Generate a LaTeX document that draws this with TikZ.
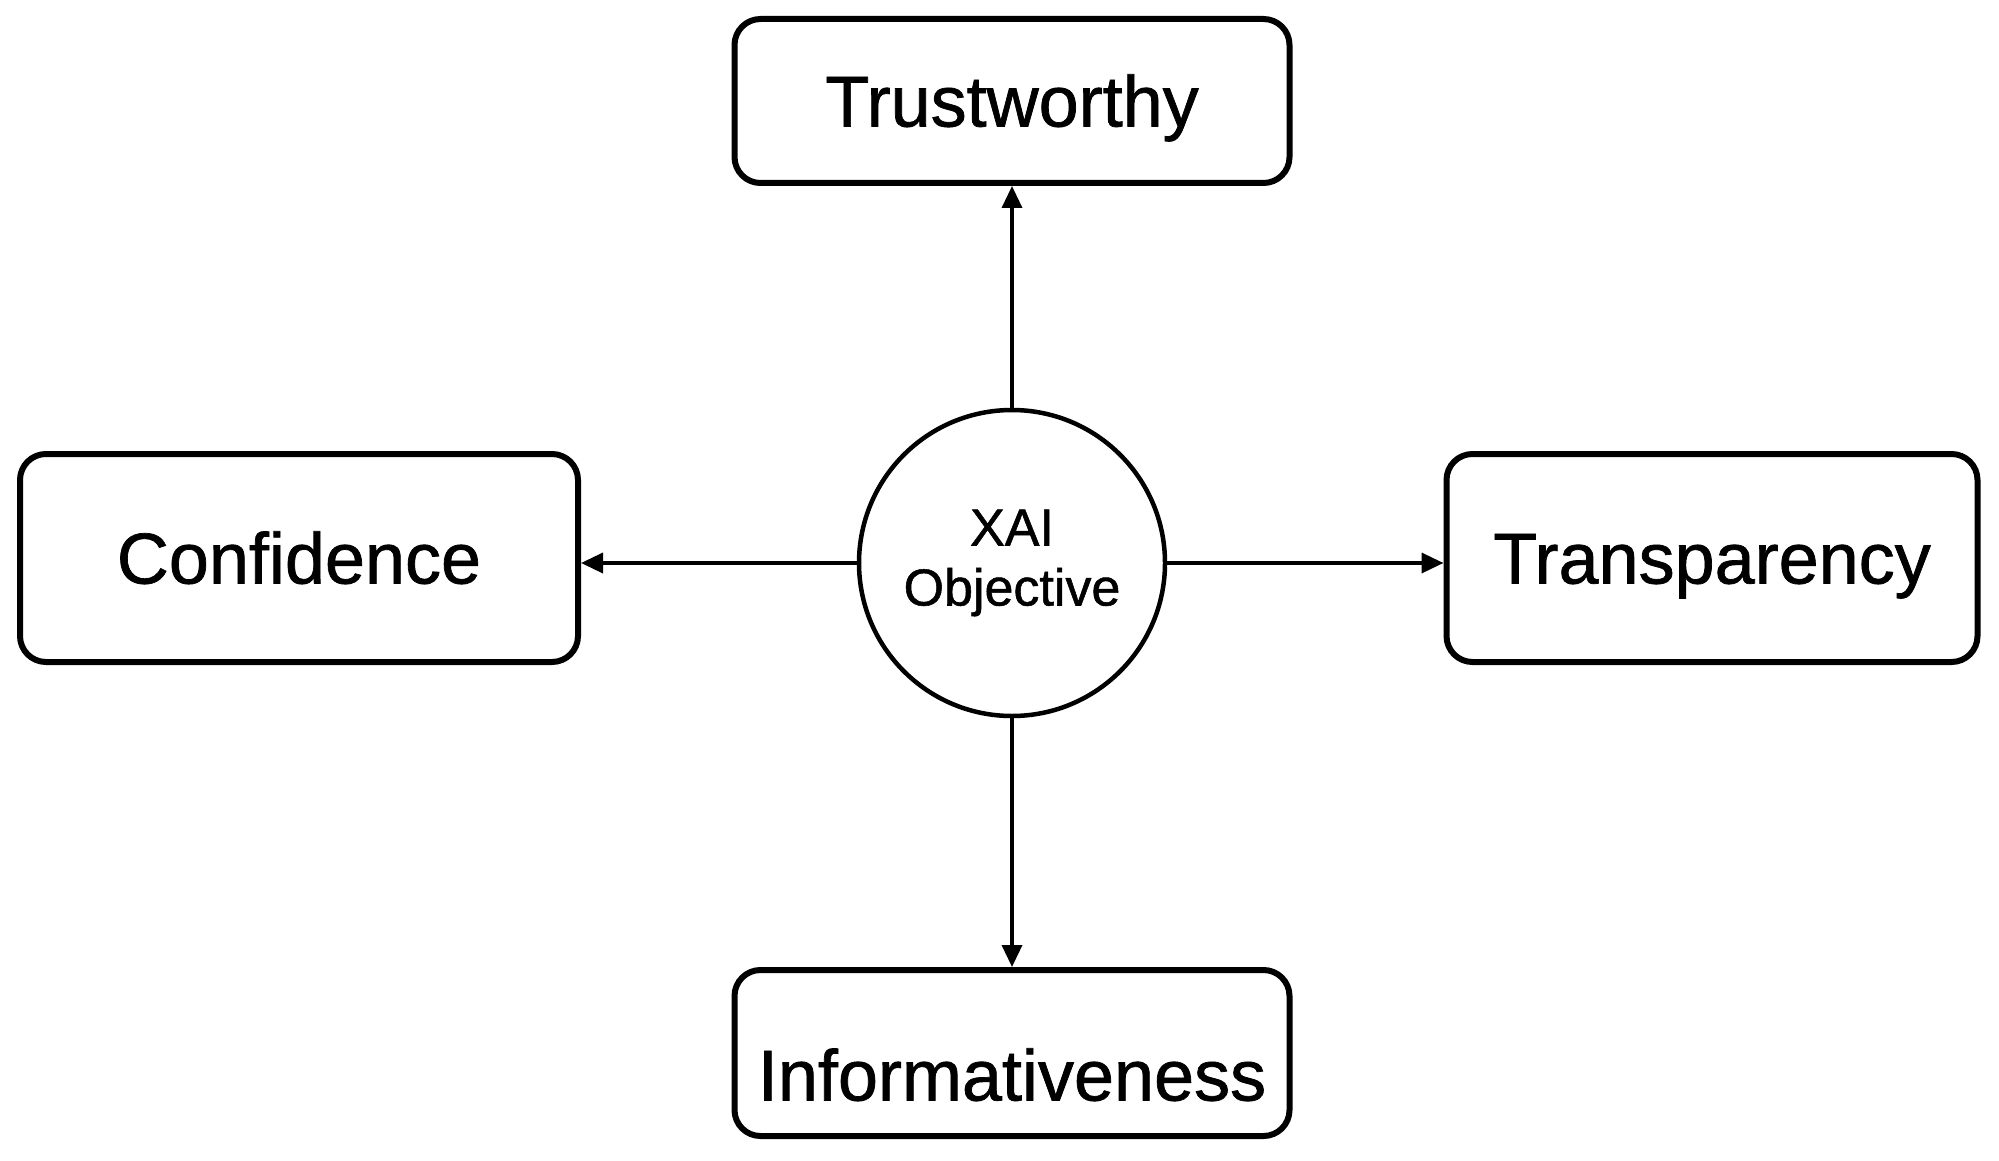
\documentclass[tikz,border=0pt]{standalone}
\usepackage{fontspec}
\setmainfont{Liberation Sans}
\newfontfamily\lblfont{Liberation Sans}[FakeBold=1]
\usetikzlibrary{arrows.meta}
\begin{document}
\begin{tikzpicture}[x=1pt,y=-1pt,
  box/.style={draw=black, line width=6pt, rounded corners=26pt, inner sep=0pt,
    font=\lblfont\fontsize{72}{86}\selectfont, text height=51pt, text depth=0pt},
  hub/.style={draw=black, circle, line width=4.5pt, minimum size=306pt, inner sep=0pt,
    align=center, font=\lblfont\fontsize{52}{60}\selectfont},
  link/.style={line width=3.5pt, draw=black, -{Triangle[length=22pt,width=20pt]}}]
\useasboundingbox (0,0) rectangle (1999,1161);
\node[hub] (xai) at (1012,563) {\raisebox{-5pt}{XAI}\\\raisebox{-5pt}{Objective}};
\node[box, minimum width=555pt, minimum height=164pt] (trust) at (1012,101) {Trustworthy};
\node[box, minimum width=558pt, minimum height=208pt] (conf) at (299,558) {Confidence};
\node[box, minimum width=531pt, minimum height=208pt] (transp) at (1712,558) {Transparency};
\node[box, minimum width=555pt, minimum height=166pt] (info) at (1012,1053) {\raisebox{-22pt}{Informativeness}};
\draw[link] (xai.north) -- (xai.north |- trust.south);
\draw[link] (xai.south) -- (xai.south |- info.north);
\draw[link] (xai.west) -- (xai.west -| conf.east);
\draw[link] (xai.east) -- (xai.east -| transp.west);
\end{tikzpicture}
\end{document}
